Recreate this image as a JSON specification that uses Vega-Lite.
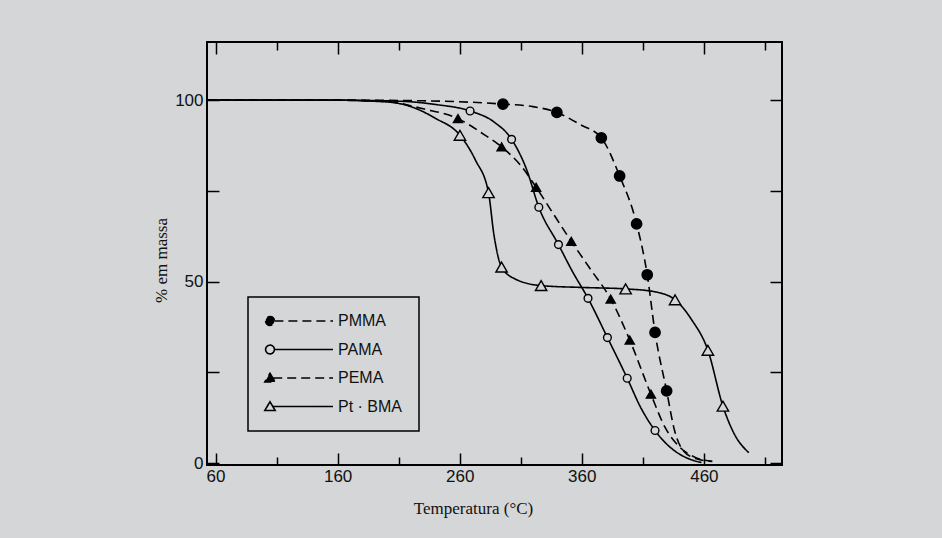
{
  "$schema": "https://vega.github.io/schema/vega-lite/v6.json",
  "width": 575,
  "height": 423,
  "autosize": "none",
  "padding": {"left": 207, "top": 42, "right": 160, "bottom": 73},
  "background": "#d4d6d7",
  "config": {
    "view": {"stroke": "black", "strokeWidth": 2},
    "axis": {
      "grid": false,
      "domain": false,
      "tickColor": "black",
      "tickWidth": 1.5,
      "labelFont": "Liberation Sans",
      "labelFontSize": 17,
      "labelColor": "#111111",
      "titleFont": "Liberation Serif",
      "titleFontSize": 17,
      "titleFontWeight": "normal",
      "titleColor": "#111111"
    }
  },
  "data": {
    "values": [
      {"polymer": "PMMA", "temp": 53, "mass": 100, "marker": 0},
      {"polymer": "PMMA", "temp": 150, "mass": 100, "marker": 0},
      {"polymer": "PMMA", "temp": 230, "mass": 99.8, "marker": 0},
      {"polymer": "PMMA", "temp": 295.4, "mass": 98.9, "marker": 1},
      {"polymer": "PMMA", "temp": 320, "mass": 98.2, "marker": 0},
      {"polymer": "PMMA", "temp": 339.6, "mass": 96.6, "marker": 1},
      {"polymer": "PMMA", "temp": 359, "mass": 93.2, "marker": 0},
      {"polymer": "PMMA", "temp": 376, "mass": 89.6, "marker": 1},
      {"polymer": "PMMA", "temp": 391, "mass": 79.1, "marker": 1},
      {"polymer": "PMMA", "temp": 404.9, "mass": 65.9, "marker": 1},
      {"polymer": "PMMA", "temp": 413.6, "mass": 51.9, "marker": 1},
      {"polymer": "PMMA", "temp": 420, "mass": 36, "marker": 1},
      {"polymer": "PMMA", "temp": 429.5, "mass": 19.9, "marker": 1},
      {"polymer": "PMMA", "temp": 436, "mass": 9, "marker": 0},
      {"polymer": "PMMA", "temp": 443, "mass": 3.5, "marker": 0},
      {"polymer": "PMMA", "temp": 454, "mass": 1.2, "marker": 0},
      {"polymer": "PMMA", "temp": 466, "mass": 0.5, "marker": 0},

      {"polymer": "PAMA", "temp": 53, "mass": 100, "marker": 0},
      {"polymer": "PAMA", "temp": 150, "mass": 100, "marker": 0},
      {"polymer": "PAMA", "temp": 210, "mass": 99.7, "marker": 0},
      {"polymer": "PAMA", "temp": 240, "mass": 98.8, "marker": 0},
      {"polymer": "PAMA", "temp": 268.5, "mass": 97, "marker": 1},
      {"polymer": "PAMA", "temp": 288, "mass": 94, "marker": 0},
      {"polymer": "PAMA", "temp": 302.5, "mass": 89.2, "marker": 1},
      {"polymer": "PAMA", "temp": 315, "mass": 80.7, "marker": 0},
      {"polymer": "PAMA", "temp": 324.8, "mass": 70.5, "marker": 1},
      {"polymer": "PAMA", "temp": 340.9, "mass": 60.2, "marker": 1},
      {"polymer": "PAMA", "temp": 352, "mass": 53, "marker": 0},
      {"polymer": "PAMA", "temp": 365.1, "mass": 45.4, "marker": 1},
      {"polymer": "PAMA", "temp": 381, "mass": 34.6, "marker": 1},
      {"polymer": "PAMA", "temp": 397.2, "mass": 23.4, "marker": 1},
      {"polymer": "PAMA", "temp": 408, "mass": 15.5, "marker": 0},
      {"polymer": "PAMA", "temp": 420, "mass": 9, "marker": 1},
      {"polymer": "PAMA", "temp": 432, "mass": 4.5, "marker": 0},
      {"polymer": "PAMA", "temp": 445, "mass": 1.6, "marker": 0},
      {"polymer": "PAMA", "temp": 458, "mass": 0.2, "marker": 0},

      {"polymer": "PEMA", "temp": 53, "mass": 100, "marker": 0},
      {"polymer": "PEMA", "temp": 150, "mass": 100, "marker": 0},
      {"polymer": "PEMA", "temp": 200, "mass": 99.6, "marker": 0},
      {"polymer": "PEMA", "temp": 230, "mass": 97.6, "marker": 0},
      {"polymer": "PEMA", "temp": 258.6, "mass": 94.9, "marker": 1},
      {"polymer": "PEMA", "temp": 280, "mass": 90.5, "marker": 0},
      {"polymer": "PEMA", "temp": 294.3, "mass": 87.1, "marker": 1},
      {"polymer": "PEMA", "temp": 310, "mass": 82, "marker": 0},
      {"polymer": "PEMA", "temp": 322.6, "mass": 76, "marker": 1},
      {"polymer": "PEMA", "temp": 337, "mass": 68.5, "marker": 0},
      {"polymer": "PEMA", "temp": 351.4, "mass": 61.1, "marker": 1},
      {"polymer": "PEMA", "temp": 368, "mass": 53, "marker": 0},
      {"polymer": "PEMA", "temp": 383.7, "mass": 45.2, "marker": 1},
      {"polymer": "PEMA", "temp": 399.3, "mass": 33.9, "marker": 1},
      {"polymer": "PEMA", "temp": 416.6, "mass": 19, "marker": 1},
      {"polymer": "PEMA", "temp": 428, "mass": 10, "marker": 0},
      {"polymer": "PEMA", "temp": 440, "mass": 4.5, "marker": 0},
      {"polymer": "PEMA", "temp": 453, "mass": 1.6, "marker": 0},
      {"polymer": "PEMA", "temp": 467, "mass": 0.5, "marker": 0},

      {"polymer": "Pt · BMA", "temp": 53, "mass": 100, "marker": 0},
      {"polymer": "Pt · BMA", "temp": 150, "mass": 100, "marker": 0},
      {"polymer": "Pt · BMA", "temp": 200, "mass": 99.5, "marker": 0},
      {"polymer": "Pt · BMA", "temp": 220, "mass": 98.2, "marker": 0},
      {"polymer": "Pt · BMA", "temp": 240, "mass": 95, "marker": 0},
      {"polymer": "Pt · BMA", "temp": 260.2, "mass": 90.3, "marker": 1},
      {"polymer": "Pt · BMA", "temp": 273, "mass": 83.4, "marker": 0},
      {"polymer": "Pt · BMA", "temp": 283.6, "mass": 74.5, "marker": 1},
      {"polymer": "Pt · BMA", "temp": 288, "mass": 63, "marker": 0},
      {"polymer": "Pt · BMA", "temp": 294.3, "mass": 54, "marker": 1},
      {"polymer": "Pt · BMA", "temp": 305, "mass": 50.8, "marker": 0},
      {"polymer": "Pt · BMA", "temp": 326.7, "mass": 48.9, "marker": 1},
      {"polymer": "Pt · BMA", "temp": 360, "mass": 48.4, "marker": 0},
      {"polymer": "Pt · BMA", "temp": 395.9, "mass": 48, "marker": 1},
      {"polymer": "Pt · BMA", "temp": 420, "mass": 47.2, "marker": 0},
      {"polymer": "Pt · BMA", "temp": 436.4, "mass": 45, "marker": 1},
      {"polymer": "Pt · BMA", "temp": 450, "mass": 39.5, "marker": 0},
      {"polymer": "Pt · BMA", "temp": 463.3, "mass": 31.1, "marker": 1},
      {"polymer": "Pt · BMA", "temp": 475.6, "mass": 15.7, "marker": 1},
      {"polymer": "Pt · BMA", "temp": 485, "mass": 8, "marker": 0},
      {"polymer": "Pt · BMA", "temp": 496.8, "mass": 2.9, "marker": 0}
    ]
  },
  "layer": [
    {
      "mark": {"type": "line", "interpolate": "monotone", "color": "black", "strokeWidth": 1.6},
      "encoding": {
        "x": {
          "field": "temp", "type": "quantitative",
          "scale": {"domain": [53, 524], "nice": false, "zero": false},
          "axis": {
            "orient": "bottom",
            "values": [60, 110, 160, 210, 260, 310, 360, 410, 460, 510],
            "labelExpr": "datum.value % 100 === 60 ? datum.label : ''",
            "tickSize": {"condition": {"test": "datum.value % 100 === 10", "value": -8}, "value": -12},
            "labelPadding": 15,
            "title": "Temperatura (°C)",
            "titleX": 266,
            "titleY": 48,
            "titleBaseline": "alphabetic"
          }
        },
        "y": {
          "field": "mass", "type": "quantitative",
          "scale": {"domain": [-0.5, 116], "nice": false, "zero": false},
          "axis": {
            "orient": "left",
            "values": [0, 25, 50, 75, 100],
            "labelExpr": "datum.value % 50 === 0 ? datum.label : ''",
            "tickSize": -12,
            "labelPadding": 16,
            "title": "% em massa",
            "titleX": -41,
            "titleY": 218,
            "titleAngle": -90,
            "titleBaseline": "alphabetic"
          }
        },
        "detail": {"field": "polymer"},
        "strokeDash": {
          "field": "polymer", "type": "nominal",
          "scale": {"domain": ["PMMA", "PAMA", "PEMA", "Pt · BMA"], "range": [[9, 5], [1, 0], [9, 5], [1, 0]]},
          "legend": {
            "title": null,
            "orient": "none",
            "legendX": 41,
            "legendY": 255,
            "padding": 16,
            "rowPadding": 12.5,
            "strokeColor": "black",
            "labelFont": "Liberation Sans",
            "labelFontSize": 16,
            "labelColor": "#111111",
            "symbolSize": 16,
            "symbolOffset": -2,
            "symbolStrokeWidth": 1.6,
            "symbolStrokeColor": "black",
            "encode": {
              "legend": {"update": {"strokeWidth": {"value": 1.5}}},
              "symbols": {
                "update": {
                  "shape": [
                    {"test": "datum.value === 'PMMA' || datum.value === 'PAMA'", "value": "M -2.2,0 A 2.2,2.2 0 1,0 2.2,0 A 2.2,2.2 0 1,0 -2.2,0 Z M 2.2,0 L 31.5,0"},
                    {"value": "M 0,-2.4 L 2.6,2 L -2.6,2 Z M 1.6,0 L 31.5,0"}
                  ],
                  "fill": [
                    {"test": "datum.value === 'PMMA' || datum.value === 'PEMA'", "value": "black"},
                    {"value": "#d4d6d7"}
                  ],
                  "stroke": {"value": "black"},
                  "strokeWidth": {"value": 1.6}
                }
              },
              "labels": {"update": {"x": {"value": 74}}}
            }
          }
        }
      }
    },
    {
      "transform": [{"filter": "datum.marker === 1"}],
      "mark": {"type": "point", "filled": true, "stroke": "black", "strokeWidth": 1.4, "opacity": 1},
      "encoding": {
        "x": {
          "field": "temp", "type": "quantitative",
          "axis": {
            "orient": "top",
            "values": [60, 110, 160, 210, 260, 310, 360, 410, 460, 510],
            "labels": false,
            "tickSize": {"condition": {"test": "datum.value % 100 === 10", "value": -8}, "value": -12},
            "title": null
          }
        },
        "y": {
          "field": "mass", "type": "quantitative",
          "axis": {
            "orient": "right",
            "values": [0, 25, 50, 75, 100],
            "labels": false,
            "tickSize": -12,
            "title": null
          }
        },
        "shape": {
          "field": "polymer", "type": "nominal",
          "scale": {"domain": ["PAMA", "PEMA", "PMMA", "Pt · BMA"], "range": ["circle", "triangle-up", "circle", "triangle-up"]},
          "legend": null
        },
        "fill": {
          "field": "polymer", "type": "nominal",
          "scale": {"domain": ["PAMA", "PEMA", "PMMA", "Pt · BMA"], "range": ["#d4d6d7", "black", "black", "#d4d6d7"]},
          "legend": null
        },
        "size": {
          "field": "polymer", "type": "nominal",
          "scale": {"domain": ["PAMA", "PEMA", "PMMA", "Pt · BMA"], "range": [60, 130, 72, 140]},
          "legend": null
        }
      }
    }
  ],
  "resolve": {"axis": {"x": "independent", "y": "independent"}}
}
